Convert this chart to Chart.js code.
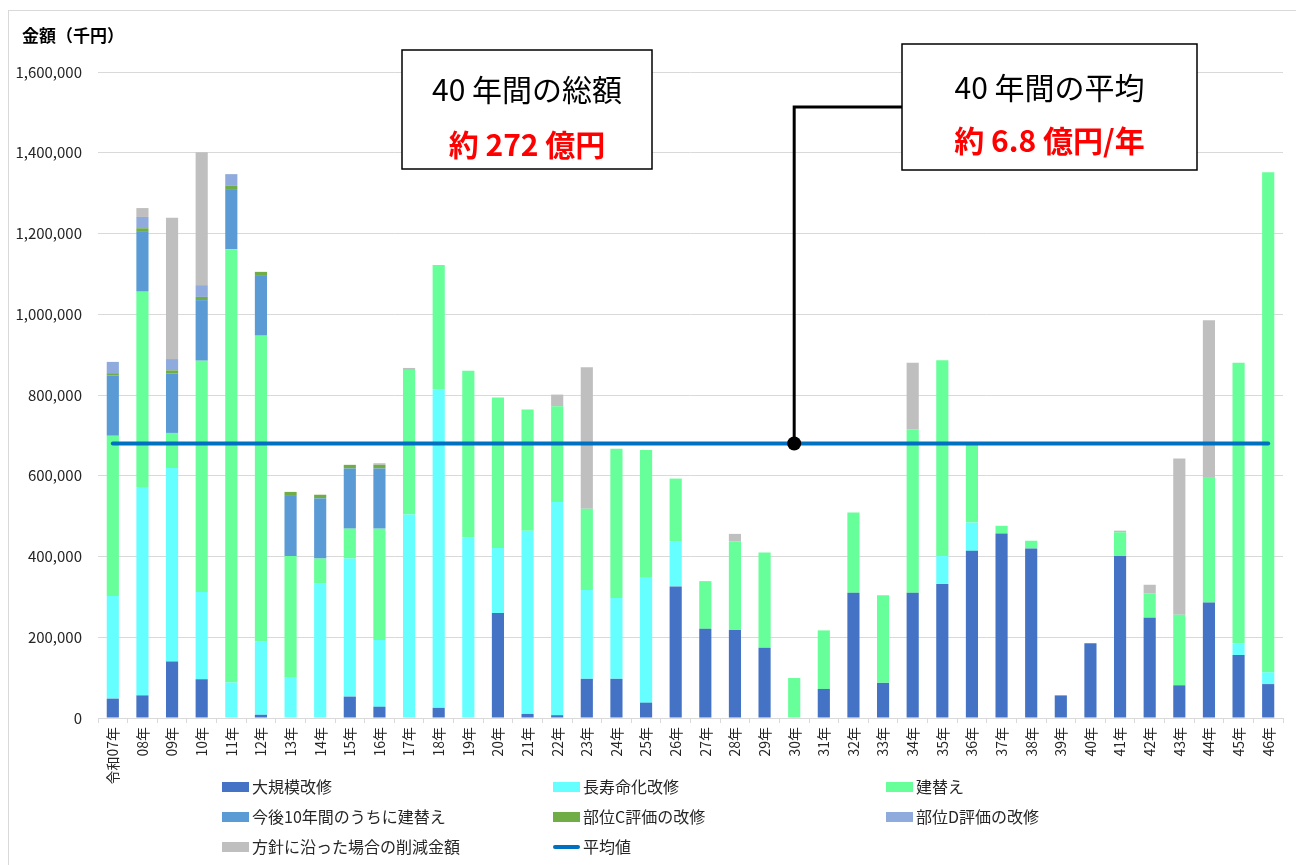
<!DOCTYPE html>
<html lang="ja">
<head>
<meta charset="utf-8">
<title>改修・更新費用の推移</title>
<script src="https://cdn.jsdelivr.net/npm/chart.js@4.4.1/dist/chart.umd.min.js"></script>
<style>
html,body{margin:0;padding:0;background:#fff;}
#wrap{position:relative;width:1296px;height:865px;}
</style>
</head>
<body>
<div id="wrap"><canvas id="costChart" width="1296" height="865"></canvas></div>
<script>
// ---- data (千円) ----
const years = ["令和07年","08年","09年","10年","11年","12年","13年","14年","15年","16年",
  "17年","18年","19年","20年","21年","22年","23年","24年","25年","26年",
  "27年","28年","29年","30年","31年","32年","33年","34年","35年","36年",
  "37年","38年","39年","40年","41年","42年","43年","44年","45年","46年"];

const majorRepair = [48000,56000,140000,96000,0,8000,0,0,53000,28000,
  0,25000,0,260000,10000,7000,97000,97000,38000,326000,
  221000,218000,174000,0,72000,310000,87000,310000,332000,414000,
  457000,420000,56000,185000,401000,248000,81000,286000,156000,84000];

const longLife = [254000,516000,479000,216000,88000,182000,100000,333000,342000,165000,
  504000,789000,447000,161000,454000,528000,220000,200000,311000,112000,
  0,0,0,0,0,0,0,0,69000,70000,
  0,0,0,0,0,0,0,0,29000,29000];

const rebuild = [397000,484000,87000,573000,1073000,757000,301000,62000,74000,276000,
  358000,308000,413000,373000,300000,237000,201000,370000,315000,155000,
  118000,220000,236000,99000,145000,199000,217000,405000,485000,192000,
  19000,19000,0,0,59000,60000,175000,311000,695000,1239000];

const rebuildSoon = [149000,148000,147000,150000,149000,150000,149000,149000,149000,149000,
  0,0,0,0,0,0,0,0,0,0,
  0,0,0,0,0,0,0,0,0,0,
  0,0,0,0,0,0,0,0,0,0];

const gradeC = [6000,9000,8000,8000,8000,8000,10000,9000,9000,9000,
  0,0,0,0,0,0,0,0,0,0,
  0,0,0,0,0,0,0,0,0,0,
  0,0,0,0,0,0,0,0,0,0];

const gradeD = [28000,28000,28000,29000,29000,0,0,0,0,0,
  0,0,0,0,0,0,0,0,0,0,
  0,0,0,0,0,0,0,0,0,0,
  0,0,0,0,0,0,0,0,0,0];

const reduction = [0,22000,350000,329000,0,0,0,0,0,4000,
  5000,0,0,0,0,29000,351000,0,0,0,
  0,18000,0,0,0,0,0,165000,0,0,
  0,0,0,0,4000,22000,387000,388000,0,0];

const averageValue = 680000;      // 約6.8億円/年
const averageMarker = "30年";     // 吹き出しの引き出し位置

const yTicks = { min: 0, max: 1600000, step: 200000 };

const FONT = "'Noto Sans CJK JP','Noto Sans',sans-serif";
Chart.defaults.font.family = FONT;
Chart.defaults.color = "#262626";

function bar(label, data, color){
  return { type:"bar", label, data, backgroundColor:color, stack:"cost", order:1,
    categoryPercentage:1, barPercentage:0.41, borderWidth:0 };
}

// ---- legend drawn in 3 columns under the axis ----
const gridLegend = {
  id:"gridLegend",
  afterDraw(chart){
    const ctx = chart.ctx;
    const colX = [222, 553, 886];
    const rowY = [787, 817, 847];
    ctx.save();
    ctx.font = "16px " + FONT;
    ctx.textBaseline = "middle";
    chart.data.datasets.forEach((ds, i) => {
      const x = colX[i % 3], y = rowY[Math.floor(i / 3)];
      if (ds.type === "line") {
        ctx.strokeStyle = ds.borderColor;
        ctx.lineWidth = 4;
        ctx.lineCap = "round";
        ctx.beginPath(); ctx.moveTo(x + 2, y); ctx.lineTo(x + 25, y); ctx.stroke();
      } else {
        ctx.fillStyle = ds.backgroundColor;
        ctx.fillRect(x, y - 5, 27, 10);
      }
      ctx.fillStyle = "#262626";
      ctx.fillText(ds.label, x + 30, y);
    });
    ctx.restore();
  }
};

// ---- axis title, frame, call-out boxes ----
const notes = {
  id:"notes",
  afterDraw(chart){
    const ctx = chart.ctx;
    const xs = chart.scales.x, ys = chart.scales.y;
    ctx.save();

    ctx.strokeStyle = "#d9d9d9";
    ctx.lineWidth = 1;
    ctx.strokeRect(8.5, 10.5, 1300, 870);

    ctx.fillStyle = "#000";
    ctx.font = "bold 17px " + FONT;
    ctx.textBaseline = "middle";
    ctx.fillText("金額（千円）", 22, 36);

    // connector from the average box down to the average line
    const dotX = xs.getPixelForValue(years.indexOf(averageMarker));
    const dotY = ys.getPixelForValue(averageValue);
    ctx.strokeStyle = "#000";
    ctx.lineWidth = 3;
    ctx.beginPath();
    ctx.moveTo(903, 107); ctx.lineTo(dotX, 107); ctx.lineTo(dotX, dotY);
    ctx.stroke();
    ctx.fillStyle = "#000";
    ctx.beginPath(); ctx.arc(dotX, dotY, 7, 0, Math.PI * 2); ctx.fill();

    function box(x1, y1, x2, y2, line1, line2, y1t, y2t){
      ctx.fillStyle = "#fff";
      ctx.fillRect(x1, y1, x2 - x1, y2 - y1);
      ctx.strokeStyle = "#000";
      ctx.lineWidth = 1.5;
      ctx.strokeRect(x1, y1, x2 - x1, y2 - y1);
      const cx = (x1 + x2) / 2;
      ctx.textAlign = "center";
      ctx.textBaseline = "middle";
      ctx.fillStyle = "#000";
      ctx.font = "30px " + FONT;
      ctx.fillText(line1, cx, y1t);
      ctx.fillStyle = "#ff0000";
      ctx.font = "bold 30px " + FONT;
      ctx.fillText(line2, cx, y2t);
    }
    box(402, 50, 652, 169, "40 年間の総額", "約 272 億円", 90, 145);
    box(902, 44, 1197, 170, "40 年間の平均", "約 6.8 億円/年", 88, 141);

    ctx.restore();
  }
};

new Chart(document.getElementById("costChart"), {
  data:{
    labels: years,
    datasets:[
      bar("大規模改修", majorRepair, "#4472C4"),
      bar("長寿命化改修", longLife, "#66FFFF"),
      bar("建替え", rebuild, "#66FF99"),
      bar("今後10年間のうちに建替え", rebuildSoon, "#5B9BD5"),
      bar("部位C評価の改修", gradeC, "#70AD47"),
      bar("部位D評価の改修", gradeD, "#8FAADC"),
      bar("方針に沿った場合の削減金額", reduction, "#BFBFBF"),
      {
        type:"line", label:"平均値", data: years.map(() => averageValue),
        borderColor:"#0070C0", backgroundColor:"#0070C0", borderWidth:4,
        pointRadius:0, stack:"avg", order:0, borderCapStyle:"round"
      }
    ]
  },
  options:{
    responsive:false,
    animation:false,
    layout:{ padding:{ top:72, right:13, bottom:70, left:0 } },
    plugins:{ legend:{ display:false }, tooltip:{ enabled:false } },
    scales:{
      x:{
        stacked:true,
        grid:{ offset:true, drawOnChartArea:false, tickLength:5, color:"#d9d9d9" },
        border:{ color:"#d9d9d9" },
        ticks:{ autoSkip:false, minRotation:90, maxRotation:90, padding:4, font:{ size:14 } },
        afterFit(s){ s.height = 77; }
      },
      y:{
        stacked:true,
        min:yTicks.min, max:yTicks.max,
        grid:{ color:"#d9d9d9", drawTicks:false },
        border:{ display:false },
        ticks:{ stepSize:yTicks.step, padding:16, font:{ size:15 },
          callback:v => v.toLocaleString("en-US") },
        afterFit(s){ s.width = 98; }
      }
    }
  },
  plugins:[notes, gridLegend]
});
</script>
</body>
</html>
